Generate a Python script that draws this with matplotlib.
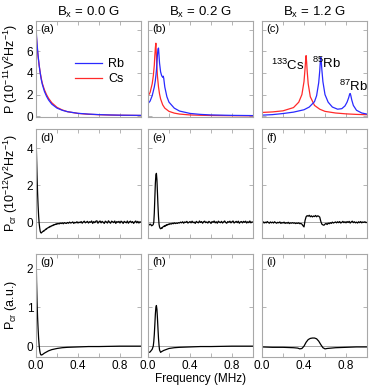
import numpy as np
import matplotlib
matplotlib.use('Agg')
import matplotlib.pyplot as plt

plt.rcParams['font.family'] = ['Liberation Sans', 'DejaVu Sans']
plt.rcParams['mathtext.fontset'] = 'custom'
plt.rcParams['mathtext.rm'] = 'Liberation Sans'
plt.rcParams['mathtext.it'] = 'Liberation Sans:italic'
plt.rcParams['mathtext.bf'] = 'Liberation Sans:bold'

# ---- row 1 : power spectra (10^-11 V^2/Hz) ----
fa = [0, 0.005, 0.01, 0.02, 0.03, 0.04, 0.05, 0.06, 0.08, 0.1, 0.12, 0.15, 0.2,
      0.25, 0.3, 0.4, 0.5, 0.6, 0.7, 0.8, 0.9, 1.0]
rb_a = [8.2, 7.4, 6.7, 5.6, 4.7, 4.0, 3.4, 2.95, 2.3, 1.85, 1.5, 1.12, 0.75,
        0.55, 0.42, 0.27, 0.2, 0.15, 0.12, 0.1, 0.09, 0.08]
cs_a = [7.9, 7.2, 6.5, 5.5, 4.7, 4.05, 3.5, 3.05, 2.45, 2.0, 1.65, 1.25, 0.82,
        0.58, 0.42, 0.26, 0.18, 0.14, 0.11, 0.09, 0.08, 0.07]

fb_cs = [0, 0.02, 0.04, 0.05, 0.06, 0.065, 0.07, 0.075, 0.08, 0.085, 0.09, 0.1,
         0.11, 0.12, 0.14, 0.16, 0.2, 0.25, 0.3, 0.4, 0.5, 0.6, 0.8, 1.0]
cs_b = [1.85, 2.2, 3.0, 3.7, 4.7, 5.6, 6.3, 6.75, 5.6, 4.5, 3.7, 2.7,
        2.05, 1.6, 1.05, 0.75, 0.45, 0.29, 0.2, 0.12, 0.09, 0.07, 0.05, 0.04]
fb_rb = [0, 0.02, 0.04, 0.06, 0.07, 0.08, 0.085, 0.09, 0.095, 0.1, 0.105, 0.11,
         0.12, 0.13, 0.14, 0.145, 0.15, 0.16, 0.18, 0.2, 0.25, 0.3, 0.4, 0.5,
         0.6, 0.8, 1.0]
rb_b = [1.17, 1.4, 1.9, 2.7, 3.3, 4.2, 4.9, 5.7, 6.2, 6.3, 5.6, 4.9,
        4.1, 3.75, 3.6, 3.7, 3.5, 2.7, 1.8, 1.3, 0.75, 0.48, 0.26, 0.17,
        0.12, 0.08, 0.06]

fc_cs = [0, 0.1, 0.2, 0.3, 0.35, 0.38, 0.4, 0.41, 0.415, 0.42, 0.425, 0.43,
         0.44, 0.46, 0.5, 0.55, 0.6, 0.7, 0.8, 0.9, 1.0]
cs_c = [0.35, 0.4, 0.5, 0.8, 1.3, 2.0, 3.2, 4.4, 5.1, 5.6, 5.0, 4.2,
        3.0, 1.8, 1.0, 0.65, 0.45, 0.3, 0.22, 0.17, 0.14]
fc_rb = [0, 0.1, 0.2, 0.3, 0.4, 0.45, 0.5, 0.52, 0.54, 0.55, 0.555, 0.56,
         0.565, 0.57, 0.58, 0.6, 0.63, 0.67, 0.72, 0.76, 0.79, 0.81, 0.825,
         0.835, 0.84, 0.845, 0.855, 0.87, 0.9, 0.95, 1.0]
rb_c = [0.1, 0.15, 0.25, 0.38, 0.6, 0.85, 1.35, 1.9, 3.1, 4.2, 5.0, 5.45,
        5.0, 4.3, 3.2, 2.0, 1.3, 0.85, 0.65, 0.7, 0.95, 1.3, 1.7,
        2.05, 2.1, 1.95, 1.5, 1.0, 0.55, 0.3, 0.2]

# ---- row 2 : measured cross spectra (10^-12 V^2/Hz) ----
# fine grid below 0.2 MHz, coarser above
f_fine = np.r_[np.arange(0, 0.2, 0.005), np.arange(0.2, 1.0001, 0.01)]
f_even = np.arange(0, 1.0001, 0.01)

pcr_d = [4.75, 3.6, 2.5, 1.6, 0.9, 0.35, -0.05, -0.3, -0.48, -0.56,
         -0.58, -0.55, -0.52, -0.5, -0.47, -0.48, -0.43, -0.42, -0.4, -0.36,
         -0.37, -0.33, -0.31, -0.3, -0.27, -0.28, -0.24, -0.22, -0.24, -0.2,
         -0.19, -0.17, -0.18, -0.14, -0.15, -0.12, -0.13, -0.1, -0.11, -0.08,
         -0.1, -0.06, -0.09, -0.04, -0.07, -0.03, -0.08, -0.02, -0.05, -0.06,
         -0.01, -0.05, 0.01, -0.04, -0.02, 0.02, -0.06, 0.0, -0.03, 0.03,
         -0.04, 0.01, -0.02, 0.04, -0.05, 0.02, 0.06, -0.03, 0.01, 0.05,
         -0.04, 0.03, 0.0, 0.07, -0.06, 0.04, -0.02, 0.06, 0.08, -0.05,
         0.03, 0.07, -0.03, 0.05, 0.0, -0.06, 0.06, 0.02, -0.04, 0.08,
         0.01, -0.05, 0.06, 0.03, -0.02, 0.07, -0.06, 0.04, 0.0, 0.05,
         -0.04, 0.06, 0.02, -0.06, 0.05, 0.01, -0.03, 0.07, -0.05, 0.03,
         0.06, -0.02, 0.04, -0.06, 0.02, 0.07, -0.03, 0.05, -0.04, 0.03,
         0.0]
pcr_e = [-0.08, -0.12, -0.1, -0.14, -0.12, -0.1, -0.15, -0.19, -0.17, -0.15,
         -0.12, 0.0, 0.5, 1.3, 2.1, 2.55, 2.65, 2.3, 1.6, 0.9,
         0.3, -0.1, -0.25, -0.32, -0.35, -0.33, -0.3, -0.32, -0.26, -0.24,
         -0.22, -0.2, -0.23, -0.17, -0.18, -0.14, -0.16, -0.12, -0.13, -0.1,
         -0.12, -0.07, -0.1, -0.05, -0.08, -0.03, -0.07, -0.04, -0.06, -0.02,
         -0.04, 0.01, -0.03, 0.03, -0.05, 0.02, -0.01, 0.05, -0.04, 0.0,
         0.04, -0.03, 0.06, -0.02, 0.01, -0.06, 0.05, 0.0, -0.03, 0.07,
         -0.01, 0.04, -0.05, 0.03, 0.06, -0.02, 0.02, -0.04, 0.05, 0.01,
         -0.06, 0.04, 0.0, 0.07, -0.03, 0.03, -0.05, 0.06, 0.01, -0.02,
         0.05, -0.04, 0.02, 0.07, -0.01, -0.05, 0.04, 0.0, 0.06, -0.03,
         0.03, 0.07, -0.04, 0.01, 0.05, -0.02, 0.06, -0.05, 0.02, 0.04,
         -0.03, 0.05, 0.0, 0.06, -0.04, 0.03, -0.02, 0.07, -0.03, 0.02,
         0.01]
pcr_f = [-0.02, 0.03, -0.04, 0.01, -0.03, 0.04, -0.01, -0.05, 0.02, -0.03,
         0.01, -0.04, 0.03, -0.02, -0.05, 0.0, -0.03, 0.02, -0.06, -0.01,
         -0.04, 0.01, -0.06, -0.02, -0.05, 0.0, -0.07, -0.03, -0.05, -0.02,
         -0.05, -0.03, -0.07, -0.04, -0.06, -0.03, -0.08, -0.06, -0.1, -0.18,
         -0.25, 0.1, 0.3, 0.36, 0.33, 0.38, 0.3, 0.35, 0.29, 0.34,
         0.31, 0.37, 0.3, 0.35, 0.33, 0.28, 0.05, -0.1, -0.14, -0.16,
         -0.1, -0.06, -0.12, -0.04, -0.08, -0.02, -0.06, 0.01, -0.04, -0.01,
         0.02, -0.03, 0.03, -0.02, 0.04, -0.04, 0.0, 0.05, -0.02, 0.03,
         -0.03, 0.04, -0.01, 0.05, -0.04, 0.02, 0.06, -0.02, 0.03, -0.03,
         0.01, -0.04, 0.03, -0.02, 0.04, -0.03, 0.02, -0.01, 0.03, -0.02,
         0.0]

# ---- row 3 : model cross spectra (a.u.) ----
fg = [0, 0.005, 0.01, 0.015, 0.02, 0.025, 0.03, 0.035, 0.04, 0.045, 0.05,
      0.06, 0.07, 0.08, 0.1, 0.12, 0.15, 0.2, 0.25, 0.3, 0.4, 0.5, 0.6, 0.8, 1.0]
pcr_g = [2.6, 1.7, 1.15, 0.75, 0.45, 0.2, 0.02, -0.1, -0.18, -0.22, -0.23,
         -0.22, -0.2, -0.18, -0.15, -0.12, -0.09, -0.06, -0.04, -0.03, -0.02,
         -0.01, -0.01, 0.0, 0.0]
fh = [0, 0.02, 0.04, 0.05, 0.055, 0.06, 0.065, 0.07, 0.075, 0.08, 0.085, 0.09,
      0.095, 0.1, 0.105, 0.11, 0.12, 0.13, 0.15, 0.2, 0.25, 0.3, 0.4, 0.5,
      0.6, 0.8, 1.0]
pcr_h = [-0.17, -0.15, -0.08, 0.0, 0.12, 0.3, 0.55, 0.82, 1.0, 1.05, 0.95, 0.72,
         0.45, 0.2, 0.02, -0.1, -0.16, -0.14, -0.11, -0.06, -0.04, -0.03, -0.02,
         -0.01, -0.01, 0.0, 0.0]
fi = [0, 0.1, 0.2, 0.3, 0.34, 0.36, 0.38, 0.4, 0.42, 0.44, 0.46, 0.48, 0.5,
      0.52, 0.54, 0.56, 0.58, 0.6, 0.62, 0.66, 0.7, 0.8, 0.9, 1.0]
pcr_i = [-0.02, -0.03, -0.03, -0.04, -0.05, -0.07, -0.06, 0.0, 0.1, 0.17, 0.2,
         0.21, 0.21, 0.19, 0.13, 0.04, -0.04, -0.07, -0.06, -0.05, -0.04,
         -0.03, -0.02, -0.02]

titles = ['B$_\\mathrm{x}$ = 0.0 G', 'B$_\\mathrm{x}$ = 0.2 G', 'B$_\\mathrm{x}$ = 1.2 G']
panel_tags = ['(a)', '(b)', '(c)', '(d)', '(e)', '(f)', '(g)', '(h)', '(i)']
ylabels = ['P (10$^{-11}$V$^2$Hz$^{-1}$)',
           'P$_\\mathrm{cr}$ (10$^{-12}$V$^2$Hz$^{-1}$)',
           'P$_\\mathrm{cr}$ (a.u.)']
row_ylim = [(-0.07, 8.8), (-0.85, 5.05), (-0.28, 2.38)]
row_yticks = [[0, 2, 4, 6, 8], [0, 2, 4], [0, 1, 2]]

blue = '#2a2aff'
red = '#ff2a2a'
frame = '#a8a8a8'

W, H = 374, 387
fig = plt.figure(figsize=(W / 100, H / 100), dpi=100)
col_px = [(36, 141), (148, 253), (262, 367)]
row_px = [(21, 117), (129, 238), (254, 357)]

axes = []
for r, (t, b) in enumerate(row_px):
    row = []
    for c, (l, rr) in enumerate(col_px):
        ax = fig.add_axes([l / W, 1 - b / H, (rr - l) / W, (b - t) / H])
        ax.set_xlim(0, 1.0)
        ax.set_ylim(*row_ylim[r])
        ax.set_xticks([0, 0.2, 0.4, 0.6, 0.8])
        ax.set_xticklabels(['0.0', '', '0.4', '', '0.8'])
        ax.set_yticks(row_yticks[r])
        ax.tick_params(direction='in', top=True, right=True, length=3,
                       width=0.6, color=frame, labelsize=8.5, pad=2)
        if r < 2:
            ax.tick_params(labelbottom=False)
        if c > 0:
            ax.tick_params(labelleft=False)
        for s in ax.spines.values():
            s.set_color(frame)
            s.set_linewidth(0.8)
        ax.text(0.04, 0.92, panel_tags[3 * r + c], transform=ax.transAxes,
                fontsize=8, va='center', ha='left')
        if r > 0:
            ax.axhline(0, color='#999999', lw=0.6, zorder=1)
        row.append(ax)
    axes.append(row)

# row 1
ax = axes[0][0]
ax.plot(fa, cs_a, color=red, lw=0.9, label='Cs')
ax.plot(fa, rb_a, color=blue, lw=0.9, label='Rb')
h, lab = ax.get_legend_handles_labels()
ax.legend(h[::-1], lab[::-1], frameon=False, fontsize=9, handlelength=2.2,
          handletextpad=0.5, labelspacing=0.25, loc='center left',
          bbox_to_anchor=(0.26, 0.47))

ax = axes[0][1]
ax.plot(fb_cs, cs_b, color=red, lw=0.9)
ax.plot(fb_rb, rb_b, color=blue, lw=0.9)

ax = axes[0][2]
ax.plot(fc_cs, cs_c, color=red, lw=0.9)
ax.plot(fc_rb, rb_c, color=blue, lw=0.9)
ax.text(0.41, 4.3, '$^{133}$Cs', ha='right', va='baseline', fontsize=9.5)
ax.text(0.48, 4.5, '$^{85}$Rb', ha='left', va='baseline', fontsize=9.5)
ax.text(0.73, 2.35, '$^{87}$Rb', ha='left', va='baseline', fontsize=9.5)

# row 2
axes[1][0].plot(f_fine, pcr_d, color='k', lw=0.9, zorder=2)
axes[1][1].plot(f_fine, pcr_e, color='k', lw=0.9, zorder=2)
axes[1][2].plot(f_even, pcr_f, color='k', lw=0.9, zorder=2)

# row 3
axes[2][0].plot(fg, pcr_g, color='k', lw=0.9, zorder=2)
axes[2][1].plot(fh, pcr_h, color='k', lw=0.9, zorder=2)
axes[2][2].plot(fi, pcr_i, color='k', lw=0.9, zorder=2)

for c in range(3):
    axes[0][c].set_title(titles[c], fontsize=9.5, pad=4)

axes[2][1].set_xlabel('Frequency (MHz)', fontsize=8.5, labelpad=1)

for r, (t, b) in enumerate(row_px):
    fig.text(11 / W, 1 - (t + b) / 2 / H, ylabels[r], rotation=90,
             ha='center', va='center', fontsize=9)

fig.savefig('out.png', dpi=100)
